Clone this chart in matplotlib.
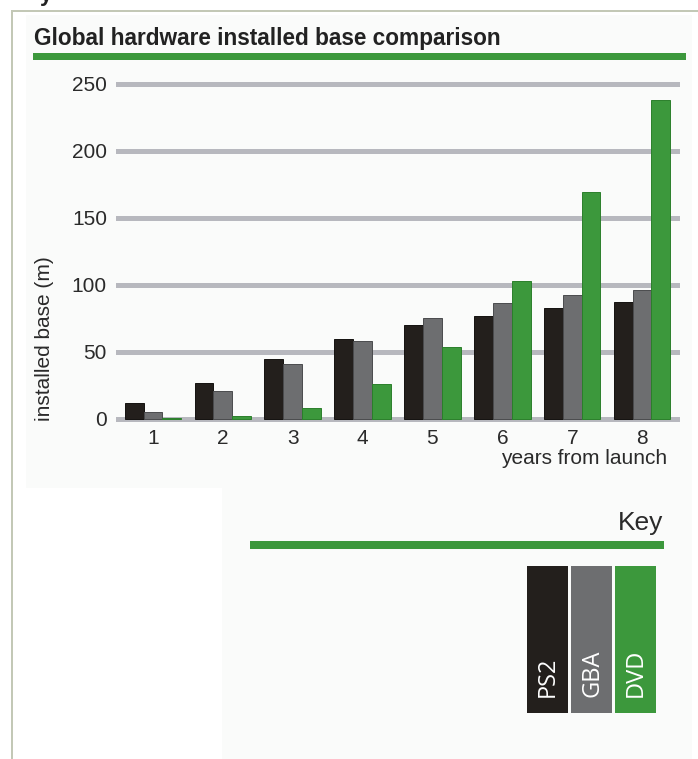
import matplotlib
matplotlib.use("Agg")
import matplotlib.pyplot as plt
from matplotlib.patches import Rectangle
from matplotlib import font_manager
import numpy as np

years = [1, 2, 3, 4, 5, 6, 7, 8]
year_labels = ["1", "2", "3", "4", "5", "6", "7", "8"]
ps2 = [12, 27, 44.5, 59.5, 70, 77, 83, 87.5]
gba = [5, 21, 41, 58.5, 75, 86.5, 92.5, 96]
dvd = [1, 2.5, 8, 26, 54, 103, 169, 238]
series_names = ["PS2", "GBA", "DVD"]
yticks = [0, 50, 100, 150, 200, 250]

c_ps2 = "#231f1c"
c_gba = "#6d6e70"
c_dvd = "#3c983c"
colors = [c_ps2, c_gba, c_dvd]
edges = ["#141210", "#4a4b4d", "#2b7f2b"]

base = "Liberation Sans"

W, H = 698, 759
fig = plt.figure(figsize=(W / 100, H / 100), dpi=100)
fig.patch.set_facecolor("white")

def px_rect(x0, y0, x1, y1, **kw):
    fig.add_artist(Rectangle((x0 / W, 1 - y1 / H), (x1 - x0) / W, (y1 - y0) / H,
                             transform=fig.transFigure, **kw))

# panel backgrounds
px_rect(26, 15, 692, 488, facecolor="#fafbfa", edgecolor="none", zorder=0)
px_rect(222, 488, 692, 759, facecolor="#fafbfa", edgecolor="none", zorder=0)
# frame lines
px_rect(11, 10, 13, 759, facecolor="#c3c8b6", edgecolor="none", zorder=1)
px_rect(11, 10, 698, 12, facecolor="#c3c8b6", edgecolor="none", zorder=1)

# cut-off text at top
fig.text(40 / W, 1 + 4 / H, "y", fontsize=16, family=base, color="#222222",
         ha="left", va="center", fontweight="bold")

# title + bar
fig.text(34 / W, 1 - 39 / H, "Global hardware installed base comparison",
         fontsize=16.3, family=base, fontweight="bold", color="#222222",
         ha="left", va="center")
px_rect(33, 53, 686, 60, facecolor=c_dvd, edgecolor="none", zorder=2)

# main axes
ax = fig.add_axes([118 / W, 1 - 423 / H, 559 / W, 346 / H])
ax.set_facecolor("none")
ax.set_xlim(0.5, 8.5)
ax.set_ylim(-3, 255)

for yv in yticks:
    ax.axhline(yv, color="#b7b8be", lw=3.6, zorder=1, clip_on=False)

x = np.array(years, dtype=float)
bw = 0.27
for i, (vals, c, e) in enumerate(zip([ps2, gba, dvd], colors, edges)):
    ax.bar(x + (i - 1) * bw, vals, width=bw, color=c, edgecolor=e, lw=0.7,
           zorder=3, bottom=0)

for s in ax.spines.values():
    s.set_visible(False)
ax.set_yticks(yticks)
ax.set_yticklabels([str(v) for v in yticks], fontsize=15, family=base, color="#2a2a2a")
ax.set_xticks(years)
ax.set_xticklabels(year_labels, fontsize=15, family=base, color="#2a2a2a")
ax.tick_params(axis="y", length=0, pad=8)
ax.tick_params(axis="x", length=0, pad=4)

fig.text(45 / W, 1 - 339 / H, "installed base (m)", rotation=90, fontsize=15,
         family=base, color="#2a2a2a", ha="center", va="center")
fig.text(667 / W, 1 - 458 / H, "years from launch", fontsize=15,
         family=base, color="#2a2a2a", ha="right", va="center")

# key
fig.text(663 / W, 1 - 523 / H, "Key", fontsize=19, family=base,
         color="#2a2a2a", ha="right", va="center")
px_rect(250, 541, 664, 549, facecolor=c_dvd, edgecolor="none", zorder=2)

key_x = [527, 571, 615]
for kx, name, c in zip(key_x, series_names, colors):
    px_rect(kx, 566, kx + 41, 713, facecolor=c, edgecolor="none", zorder=2)
    fig.text((kx + 21) / W, 1 - 697 / H, name, rotation=90, fontsize=17,
             family="Open Sans", color="white", ha="center", va="bottom", zorder=3)

fig.savefig("out.png", dpi=100, facecolor=fig.get_facecolor())
